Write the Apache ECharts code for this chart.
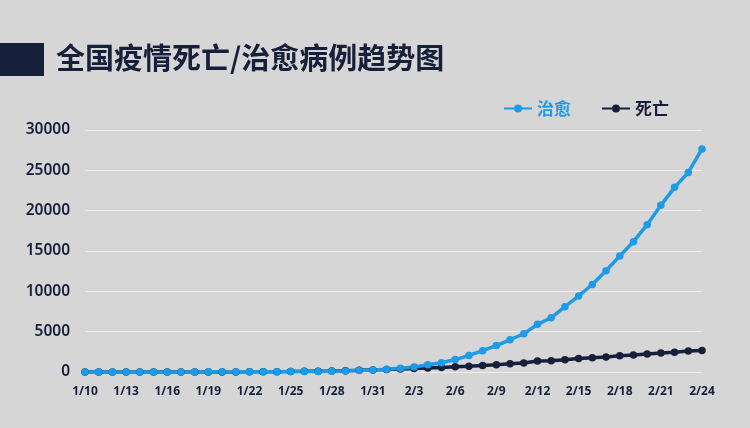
<!DOCTYPE html>
<html><head><meta charset="utf-8">
<script src="https://cdn.jsdelivr.net/npm/echarts@6/dist/echarts.min.js"></script>
<style>html,body{margin:0;padding:0;background:#d6d6d6;}#c{width:750px;height:428px;}</style>
</head><body><div id="c"></div>
<script>
const dates = ['1/10','1/11','1/12','1/13','1/14','1/15','1/16','1/17','1/18','1/19','1/20','1/21','1/22','1/23','1/24','1/25','1/26','1/27','1/28','1/29','1/30','1/31',
  '2/1','2/2','2/3','2/4','2/5','2/6','2/7','2/8','2/9','2/10','2/11','2/12','2/13','2/14','2/15','2/16','2/17','2/18','2/19','2/20','2/21','2/22','2/23','2/24'];
const cured = [2,2,7,7,7,7,7,12,15,17,25,25,28,34,38,49,51,60,103,124,171,243,
  328,475,632,892,1153,1540,2050,2649,3281,3996,4740,5911,6723,8096,9419,10844,12552,14376,16155,18264,20659,22888,24734,27650];
const deaths = [1,1,1,1,1,1,1,2,2,3,6,9,17,25,41,56,80,106,132,170,213,259,
  304,361,425,490,563,636,722,811,908,1016,1113,1367,1380,1523,1665,1770,1868,2004,2118,2236,2345,2442,2592,2663];
const yTicks = [0,5000,10000,15000,20000,25000,30000];
const BLUE = '#1e9be8', DARK = '#17203a';
const chart = echarts.init(document.getElementById('c'));
chart.setOption({
  backgroundColor: '#d6d6d6',
  animation: false,
  graphic: [
    {type:'rect', left:0, top:43, shape:{width:44,height:33}, style:{fill:DARK}},
    {type:'text', left:56, top:43, style:{text:'全国疫情死亡/治愈病例趋势图', fill:DARK, font:'bold 29px "Noto Sans CJK SC"'}}
  ],
  legend: {
    right: 76, top: 95, itemWidth: 28, itemHeight: 10, itemGap: 30,
    data: [
      {name:'治愈', textStyle:{color:BLUE}},
      {name:'死亡', textStyle:{color:DARK}}
    ],
    textStyle: {fontSize:17, fontWeight:'bold', fontFamily:'Noto Sans CJK SC'}
  },
  grid: {left:85, right:48, top:130, bottom:56},
  xAxis: {
    type:'category', data:dates, boundaryGap:false,
    axisLine:{show:false}, axisTick:{show:false},
    axisLabel:{interval:2, color:DARK, fontSize:12, fontWeight:'bold', fontFamily:'Noto Sans', margin:14}
  },
  yAxis: {
    type:'value', min:yTicks[0], max:yTicks[yTicks.length-1], interval:5000,
    axisLine:{show:false}, axisTick:{show:false},
    splitLine:{lineStyle:{color:'#ececec', width:1}},
    axisLabel:{color:DARK, fontSize:15.5, fontWeight:600, fontFamily:'Noto Sans', margin:15, formatter:v=>String(v)}
  },
  series: [
    {name:'死亡', type:'line', data:deaths, color:DARK, symbol:'circle', symbolSize:7.5,
     lineStyle:{width:3.5, color:DARK}, itemStyle:{color:DARK}},
    {name:'治愈', type:'line', data:cured, color:BLUE, symbol:'circle', symbolSize:7.5,
     lineStyle:{width:3.5, color:BLUE}, itemStyle:{color:BLUE}}
  ]
});
</script></body></html>
